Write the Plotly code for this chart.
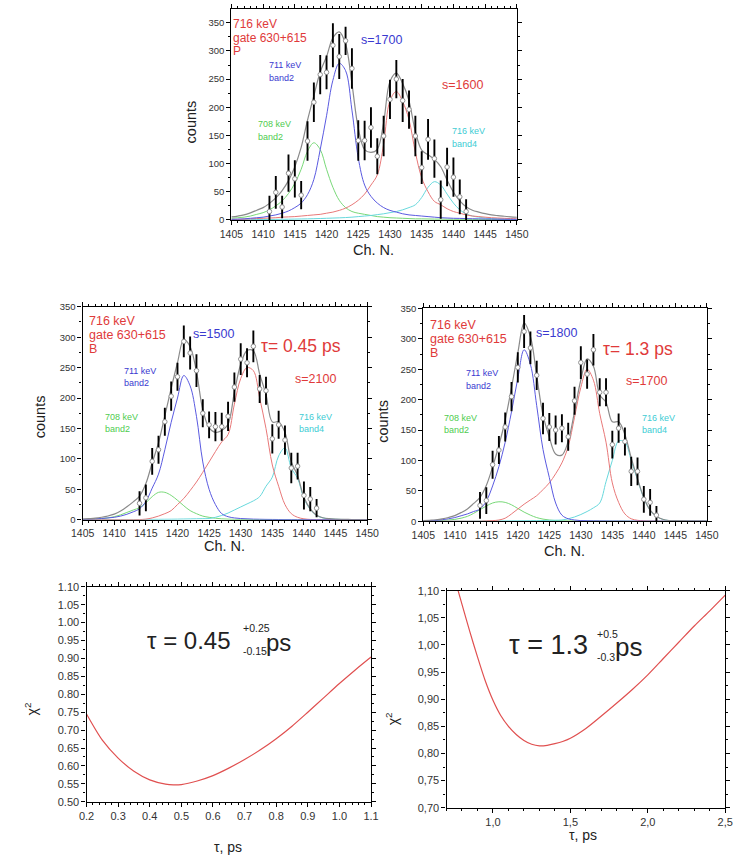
import plotly.graph_objects as go

W, H = 744, 862

# ---------------- channel grid for the fitted line shapes ----------------
CH = list(range(1405, 1451))

# ---------------- top spectrum (gate 630+615, P) ----------------
top_ch = list(range(1411, 1443))
top_counts = [15, 49, 23, 83, 73, 44, 140, 209, 258, 262, 310, 290, 318, 269, 141, 141,
              164, 113, 149, 214, 250, 212, 196, 149, 93, 143, 109, 36, 94, 76, 41, 15]
top_err = [28, 29, 20, 33, 33, 25, 35, 35, 35, 30, 39, 40, 25, 36, 36, 35,
           36, 32, 36, 35, 34, 38, 34, 36, 29, 36, 34, 34, 34, 35, 31, 22]
top_blue = [1, 1.5, 2, 3, 4, 5, 7, 9, 12, 16, 22, 30, 45, 72, 125, 185, 248, 278, 265, 195,
            110, 62, 42, 30, 22, 17, 14, 11, 9, 8, 7, 6, 5, 4, 3.5, 3, 2.8, 2.5, 2.2, 2,
            1.8, 1.6, 1.4, 1.3, 1.2, 1.1]
top_green = [3, 4, 5, 7, 10, 13, 18, 25, 34, 47, 65, 90, 122, 137, 125, 90, 58, 35, 22, 15,
             12, 10, 8, 6, 5, 4, 3.5, 3, 2.5, 2, 2, 1.8, 1.6, 1.5, 1.4, 1.3, 1.2, 1.1, 1, 1,
             0.9, 0.9, 0.8, 0.8, 0.7, 0.7]
top_red = [1, 1, 1.5, 2, 2.5, 3, 3.5, 4, 5, 5.5, 6, 7, 8, 9, 10, 12, 14, 17, 21, 27,
           35, 46, 62, 80, 135, 212, 228, 210, 178, 120, 75, 50, 33, 27, 20, 15, 12, 9, 7, 6,
           5, 4, 3.5, 3, 2.5, 2]
top_cyan = [0.5, 0.5, 0.6, 0.7, 0.8, 0.9, 1, 1.1, 1.2, 1.4, 1.6, 1.8, 2, 2.3, 2.6, 3, 3.4, 3.8, 4.3, 5,
            6, 7, 8, 9.5, 11, 13, 15, 18, 22, 27, 40, 58, 68, 62, 46, 30, 18, 11, 7, 5,
            3.5, 2.5, 2, 1.5, 1.2, 1]

# ---------------- middle-left spectrum (B, tau = 0.45 ps) ----------------
ml_ch = list(range(1414, 1443))
ml_counts = [27, 36, 96, 115, 161, 203, 235, 293, 274, 245, 175, 156, 153, 153, 170,
             218, 264, 258, 285, 215, 212, 133, 156, 131, 85, 88, 40, 34, 19]
ml_err = [20, 22, 22, 23, 23, 24, 23, 26, 27, 27, 23, 22, 24, 23, 24,
          24, 26, 24, 26, 23, 23, 24, 23, 24, 25, 22, 23, 20, 15]
ml_blue = [0.5, 1, 1.5, 2, 3, 4, 6, 9, 13, 18, 30, 52, 75, 115, 160, 200, 237, 220, 170, 95,
           50, 25, 10, 5, 3, 2, 1.5, 1, 0.8, 0.6, 0.5, 0.4, 0.3, 0.3, 0.2, 0.2, 0.2, 0.1, 0.1, 0.1,
           0.1, 0.1, 0.1, 0.1, 0.1, 0.1]
ml_green = [0.5, 0.7, 1, 2, 3, 5, 8, 12, 16, 20, 28, 38, 45, 45, 40, 32, 23, 15, 10, 6,
            4, 2.5, 1.5, 1, 0.7, 0.5, 0.5, 0.4, 0.4, 0.3, 0.3, 0.3, 0.2, 0.2, 0.2, 0.2, 0.1, 0.1, 0.1, 0.1,
            0.1, 0.1, 0.1, 0.1, 0.1, 0.1]
ml_red = [0, 0, 0, 0, 0, 0, 0, 0, 0, 0.3, 1, 3, 6, 10, 15, 25, 35, 48, 62, 78,
          95, 112, 128, 140, 190, 232, 250, 245, 200, 150, 90, 55, 25, 10, 4, 1.5, 0.5, 0.2, 0.1, 0,
          0, 0, 0, 0, 0, 0]
ml_cyan = [0.1, 0.1, 0.1, 0.1, 0.2, 0.2, 0.2, 0.3, 0.3, 0.4, 0.5, 0.6, 0.7, 0.8, 0.9, 1, 1.2, 1.4, 1.6, 1.8,
           2, 4, 7, 11, 16, 21, 26, 31, 38, 55, 70, 105, 118, 85, 68, 35, 17, 7, 3, 1.5,
           0.8, 0.5, 0.3, 0.2, 0.1, 0.1]

# ---------------- middle-right spectrum (B, tau = 1.3 ps) ----------------
mr_ch = list(range(1414, 1443))
mr_counts = [26, 34, 93, 117, 155, 205, 253, 312, 285, 240, 169, 155, 150, 153, 139,
             198, 261, 242, 282, 212, 212, 126, 153, 131, 82, 82, 36, 31, 10]
mr_err = [22, 22, 23, 23, 24, 24, 25, 27, 27, 24, 26, 23, 24, 23, 23,
          23, 27, 24, 26, 23, 23, 23, 24, 23, 24, 23, 22, 22, 15]
mr_blue = [0.5, 1, 1.5, 2.5, 4, 6, 9, 12, 16, 20, 33, 58, 90, 130, 180, 235, 282, 258, 190, 118,
           72, 30, 10, 4, 2, 1, 0.8, 0.6, 0.5, 0.4, 0.3, 0.3, 0.2, 0.2, 0.2, 0.1, 0.1, 0.1, 0.1, 0.1,
           0.1, 0.1, 0.1, 0.1, 0.1, 0.1]
mr_green = [0.3, 0.5, 0.8, 1.2, 2, 3, 5, 8, 13, 19, 25, 30, 32, 31, 27, 21, 15, 10, 6, 3.5,
            2, 1, 0.7, 0.5, 0.4, 0.3, 0.3, 0.3, 0.2, 0.2, 0.2, 0.2, 0.2, 0.1, 0.1, 0.1, 0.1, 0.1, 0.1, 0.1,
            0.1, 0.1, 0.1, 0.1, 0.1, 0.1]
mr_red = [0, 0, 0, 0, 0, 0, 0, 0, 0, 0, 0.5, 1, 2, 5, 12, 20, 28, 35, 42, 52,
          63, 78, 96, 123, 171, 220, 250, 232, 177, 130, 63, 31, 12, 4, 1.5, 0.5, 0.2, 0.1, 0, 0,
          0, 0, 0, 0, 0, 0]
mr_cyan = [0.1, 0.1, 0.1, 0.1, 0.1, 0.2, 0.2, 0.2, 0.3, 0.3, 0.4, 0.4, 0.5, 0.5, 0.6, 0.7, 0.8, 0.9, 1, 1.2,
           1.4, 1.7, 2, 4, 7, 11, 16, 22, 30, 65, 100, 132, 130, 100, 68, 38, 18, 8, 3, 1,
           0.5, 0.3, 0.2, 0.1, 0.1, 0.1]

# ---------------- chi^2 curves ----------------
tau_L = [0.20, 0.25, 0.30, 0.35, 0.40, 0.45, 0.475, 0.50, 0.55, 0.60, 0.65, 0.70, 0.75, 0.80,
         0.85, 0.90, 0.95, 1.00, 1.05, 1.10]
chi_L = [0.745, 0.672, 0.622, 0.585, 0.561, 0.549, 0.547, 0.548, 0.558, 0.573, 0.594, 0.618,
         0.645, 0.676, 0.711, 0.750, 0.790, 0.830, 0.868, 0.904]
tau_R = [0.76, 0.80, 0.85, 0.90, 0.95, 1.00, 1.05, 1.10, 1.15, 1.20, 1.25, 1.30, 1.35, 1.40,
         1.45, 1.50, 1.60, 1.70, 1.80, 1.90, 2.00, 2.10, 2.20, 2.30, 2.40, 2.50]
chi_R = [1.115, 1.075, 1.025, 0.978, 0.934, 0.898, 0.870, 0.850, 0.835, 0.824, 0.817, 0.814,
         0.815, 0.818, 0.822, 0.828, 0.846, 0.869, 0.893, 0.918, 0.945, 0.975, 1.005, 1.035,
         1.063, 1.092]

# tick labels
spec_xticks = [1405, 1410, 1415, 1420, 1425, 1430, 1435, 1440, 1445, 1450]
spec_yticks = [0, 50, 100, 150, 200, 250, 300, 350]
bl_yticks = [0.50, 0.55, 0.60, 0.65, 0.70, 0.75, 0.80, 0.85, 0.90, 0.95, 1.00, 1.05, 1.10]
bl_ytext = ["0.50", "0.55", "0.60", "0.65", "0.70", "0.75", "0.80", "0.85", "0.90", "0.95",
            "1.00", "1.05", "1.10"]
bl_xticks = [0.2, 0.3, 0.4, 0.5, 0.6, 0.7, 0.8, 0.9, 1.0, 1.1]
bl_xtext = ["0.2", "0.3", "0.4", "0.5", "0.6", "0.7", "0.8", "0.9", "1.0", "1.1"]
br_yticks = [0.70, 0.75, 0.80, 0.85, 0.90, 0.95, 1.00, 1.05, 1.10]
br_ytext = ["0,70", "0,75", "0,80", "0,85", "0,90", "0,95", "1,00", "1,05", "1,10"]
br_xticks = [1.0, 1.5, 2.0, 2.5]
br_xtext = ["1,0", "1,5", "2,0", "2,5"]

BLUE = "#5a5ae0"
GREEN = "#78d878"
RED = "#e87878"
CYAN = "#68d8dc"
GRAY = "#8a8a8a"
FONT = "Liberation Sans, Arial, sans-serif"

fig = go.Figure()


def add_spectrum(xa, ya, dch, counts, errs, comps):
    for vals, col in comps:
        fig.add_trace(go.Scatter(x=CH, y=vals, mode="lines", xaxis=xa, yaxis=ya,
                                 line=dict(color=col, width=1, shape="spline"),
                                 hoverinfo="skip", showlegend=False))
    total = [sum(c[0][i] for c in comps) for i in range(len(CH))]
    fig.add_trace(go.Scatter(x=CH, y=total, mode="lines", xaxis=xa, yaxis=ya,
                             line=dict(color=GRAY, width=1.2, shape="spline"),
                             hoverinfo="skip", showlegend=False))
    fig.add_trace(go.Scatter(x=dch, y=counts, mode="markers", xaxis=xa, yaxis=ya,
                             error_y=dict(type="data", array=errs, visible=True,
                                          color="black", thickness=1.9, width=0),
                             marker=dict(symbol="circle", size=4.5, color="white",
                                         line=dict(color="#909090", width=1)),
                             showlegend=False))


add_spectrum("x", "y", top_ch, top_counts, top_err,
             [(top_green, GREEN), (top_cyan, CYAN), (top_red, RED), (top_blue, BLUE)])
add_spectrum("x2", "y2", ml_ch, ml_counts, ml_err,
             [(ml_green, GREEN), (ml_cyan, CYAN), (ml_red, RED), (ml_blue, BLUE)])
add_spectrum("x3", "y3", mr_ch, mr_counts, mr_err,
             [(mr_green, GREEN), (mr_cyan, CYAN), (mr_red, RED), (mr_blue, BLUE)])

fig.add_trace(go.Scatter(x=tau_L, y=chi_L, mode="lines", xaxis="x4", yaxis="y4",
                         line=dict(color="#e05050", width=1.2, shape="spline", smoothing=0.8),
                         showlegend=False))
fig.add_trace(go.Scatter(x=tau_R, y=chi_R, mode="lines", xaxis="x5", yaxis="y5",
                         line=dict(color="#e05050", width=1.2, shape="spline", smoothing=0.8),
                         showlegend=False))


def dom_x(a, b):
    return [a / W, b / W]


def dom_y(top, bottom):
    return [1 - bottom / H, 1 - top / H]


def axis(domain, rng, anchor, tickvals, ticktext=None, minor=None, size=10):
    d = dict(domain=domain, range=rng, anchor=anchor, showline=True, linecolor="black",
             linewidth=1.3, mirror="ticks", ticks="outside", ticklen=4, tickwidth=1,
             tickcolor="black", showgrid=False, zeroline=False, tickvals=tickvals,
             tickfont=dict(family=FONT, size=size, color="#333333"), fixedrange=True)
    if ticktext is not None:
        d["ticktext"] = ticktext
    if minor is not None:
        d["minor"] = dict(dtick=minor, ticklen=2, tickcolor="black", ticks="outside",
                          showgrid=False)
    return d


fig.update_layout(
    width=W, height=H, autosize=False,
    margin=dict(l=0, r=0, t=0, b=0),
    paper_bgcolor="white", plot_bgcolor="white",
    font=dict(family=FONT),
    xaxis=axis(dom_x(226.7, 521.7), [1405, 1450], "y", spec_xticks, minor=1, size=10.5),
    yaxis=axis(dom_y(3.3, 217), [0, 374], "x", spec_yticks, minor=25, size=9.5),
    xaxis2=axis(dom_x(73, 367), [1405, 1450], "y2", spec_xticks, minor=1, size=10.5),
    yaxis2=axis(dom_y(305, 521), [0, 350], "x2", spec_yticks, minor=25, size=9.5),
    xaxis3=axis(dom_x(425, 718), [1405, 1450], "y3", spec_xticks, minor=1, size=10.5),
    yaxis3=axis(dom_y(306.7, 522.5), [0, 350], "x3", spec_yticks, minor=25, size=9.5),
    xaxis4=axis(dom_x(77, 371), [0.2, 1.1], "y4", bl_xticks, bl_xtext, minor=0.02, size=11),
    yaxis4=axis(dom_y(589, 807), [0.5, 1.1], "x4", bl_yticks, bl_ytext, minor=0.025, size=11),
    xaxis5=axis(dom_x(449, 737), [0.7, 2.5], "y5", br_xticks, br_xtext, minor=0.1, size=11),
    yaxis5=axis(dom_y(593, 813), [0.7, 1.1], "x5", br_yticks, br_ytext, minor=0.025, size=11),
)

ann = []


def note(text, x, y, xref, yref, size, color, xanchor="left", textangle=0, xshift=-3):
    ann.append(dict(text=text, x=x, y=y, xref=xref, yref=yref, showarrow=False,
                    xanchor=xanchor, yanchor="middle", textangle=textangle, xshift=xshift,
                    font=dict(family=FONT, size=size, color=color)))


def pnote(text, xp, yp, size, color="#222222", textangle=0):
    note(text, xp / W, 1 - yp / H, "paper", "paper", size, color, "center", textangle, 0)


TRED = "#e03a3a"
TBLUE = "#3a3ad0"
TGREEN = "#50cc50"
TCYAN = "#40ccd4"

# top panel labels
note("716 keV", 1405.35, 348, "x", "y", 12, TRED)
note("gate 630+615", 1405.35, 323, "x", "y", 12, TRED)
note("P", 1405.35, 300, "x", "y", 12, TRED)
note("s=1700", 1425.6, 319, "x", "y", 12.5, TBLUE)
note("711 keV", 1411.1, 275, "x", "y", 9, TBLUE)
note("band2", 1411.1, 252, "x", "y", 9, TBLUE)
note("708 keV", 1409.3, 170, "x", "y", 9, TGREEN)
note("band2", 1409.3, 147, "x", "y", 9, TGREEN)
note("s=1600", 1438.3, 240, "x", "y", 12.5, TRED)
note("716 keV", 1440.0, 158, "x", "y", 9, TCYAN)
note("band4", 1440.0, 135, "x", "y", 9, TCYAN)

# middle-left labels
note("716 keV", 1406.1, 327, "x2", "y2", 12.5, TRED)
note("gate 630+615", 1406.1, 304, "x2", "y2", 12.5, TRED)
note("B", 1406.1, 281, "x2", "y2", 12.5, TRED)
note("s=1500", 1422.6, 305, "x2", "y2", 12.5, TBLUE)
note("τ= 0.45 ps", 1433.3, 285, "x2", "y2", 17.5, TRED)
note("711 keV", 1411.7, 245, "x2", "y2", 9, TBLUE)
note("band2", 1411.7, 224, "x2", "y2", 9, TBLUE)
note("s=2100", 1438.7, 232, "x2", "y2", 12.5, TRED)
note("708 keV", 1408.7, 169, "x2", "y2", 9, TGREEN)
note("band2", 1408.7, 149, "x2", "y2", 9, TGREEN)
note("716 keV", 1439.3, 169, "x2", "y2", 9, TCYAN)
note("band4", 1439.3, 149, "x2", "y2", 9, TCYAN)

# middle-right labels
note("716 keV", 1406.2, 323, "x3", "y3", 12.5, TRED)
note("gate 630+615", 1406.2, 300, "x3", "y3", 12.5, TRED)
note("B", 1406.2, 277, "x3", "y3", 12.5, TRED)
note("s=1800", 1423.0, 309, "x3", "y3", 12.5, TBLUE)
note("τ= 1.3 ps", 1433.7, 284, "x3", "y3", 17.5, TRED)
note("711 keV", 1411.9, 244, "x3", "y3", 9, TBLUE)
note("band2", 1411.9, 223, "x3", "y3", 9, TBLUE)
note("s=1700", 1437.3, 230, "x3", "y3", 12.5, TRED)
note("708 keV", 1408.4, 169, "x3", "y3", 9, TGREEN)
note("band2", 1408.4, 150, "x3", "y3", 9, TGREEN)
note("716 keV", 1439.9, 169, "x3", "y3", 9, TCYAN)
note("band4", 1439.9, 150, "x3", "y3", 9, TCYAN)

# chi^2 panel labels
note("τ = 0.45", 0.393, 0.951, "x4", "y4", 24, "#222222")
note("+0.25", 0.699, 0.984, "x4", "y4", 10.5, "#222222")
note("-0.15", 0.699, 0.921, "x4", "y4", 10.5, "#222222")
note("ps", 0.772, 0.945, "x4", "y4", 24, "#222222")
note("τ = 1.3", 1.1125, 1.0, "x5", "y5", 27, "#222222")
note("+0.5", 1.68, 1.021, "x5", "y5", 10.5, "#222222")
note("-0.3", 1.68, 0.978, "x5", "y5", 10.5, "#222222")
note("ps", 1.794, 0.996, "x5", "y5", 26, "#222222")

# axis titles
pnote("counts", 185, 118, 14.5, textangle=-90)
pnote("Ch. N.", 374, 247, 14.5)
pnote("counts", 29, 417, 14.5, textangle=-90)
pnote("Ch. N.", 220, 548, 14.5)
pnote("counts", 384, 421, 14.5, textangle=-90)
pnote("Ch. N.", 571, 553, 14.5)
pnote("χ<sup>2</sup>", 20, 713, 14, textangle=-90)
pnote("τ, ps", 223, 853, 14)
pnote("χ<sup>2</sup>", 393, 723, 14, textangle=-90)
pnote("τ, ps", 590, 841, 14)

fig.update_layout(annotations=ann)

fig.write_html("out.html")
